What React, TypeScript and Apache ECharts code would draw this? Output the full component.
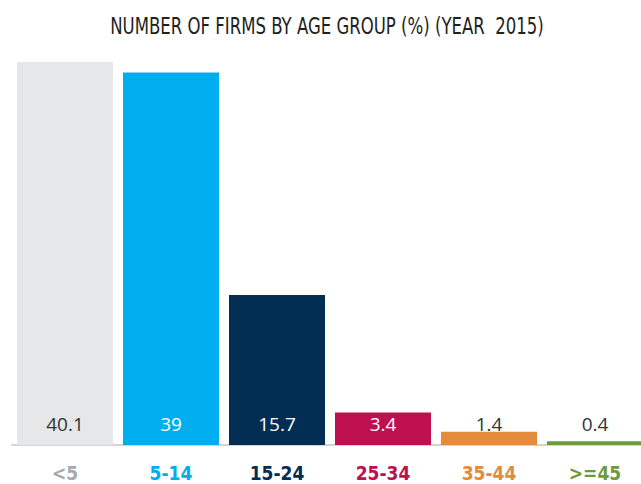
import React, { useEffect, useRef } from "react";
import * as echarts from "echarts";

const categories = ["<5", "5-14", "15-24", "25-34", "35-44", ">=45"];
const values = [40.1, 39, 15.7, 3.4, 1.4, 0.4];
const barColors = ["#e6e7e8", "#00aeef", "#012e52", "#be104f", "#e38b3a", "#6b9b3c"];
const labelColors = ["#a7a9ac", "#00aeef", "#012e52", "#be104f", "#e38b3a", "#6b9b3c"];
const valueLabelColors = ["#333333", "#ffffff", "#ffffff", "#ffffff", "#333333", "#333333"];
const titleText = "NUMBER OF FIRMS BY AGE GROUP (%) (YEAR  2015)";

export default function App() {
  const ref = useRef<HTMLDivElement>(null);
  useEffect(() => {
    if (!ref.current) return;
    const chart = echarts.init(ref.current, null, { renderer: "svg" });
    chart.setOption({
      animation: false,
      backgroundColor: "#ffffff",
      graphic: [
        {
          type: "text",
          x: 327,
          y: 26,
          scaleX: 0.8,
          style: {
            text: titleText,
            align: "center",
            verticalAlign: "middle",
            fontFamily: "'DejaVu Sans Condensed', sans-serif",
            fontSize: 23,
            fill: "#231f20",
          },
        },
      ],
      grid: { left: 12, right: 0, top: 62, bottom: 39, containLabel: false },
      xAxis: {
        type: "category",
        data: categories,
        axisLine: { show: true, lineStyle: { color: "#d1d3d4", width: 2 } },
        axisTick: { show: false },
        axisLabel: {
          margin: 18,
          fontFamily: "'DejaVu Sans Condensed', sans-serif",
          fontWeight: "bold",
          fontSize: 19,
          color: (_v: string, i: number) => labelColors[i],
        },
      },
      yAxis: {
        type: "value",
        min: 0,
        max: 40.1,
        show: false,
        splitLine: { show: false },
      },
      series: [
        {
          type: "bar",
          barCategoryGap: "9.4%",
          data: values.map((v, i) => ({
            value: v,
            itemStyle: { color: barColors[i] },
            label: { color: valueLabelColors[i] },
          })),
          label: {
            show: true,
            position: "insideBottom",
            distance: 12,
            fontFamily: "'Open Sans', sans-serif",
            fontWeight: 400,
            fontSize: 19,
          },
        },
      ],
    });
    return () => chart.dispose();
  }, []);
  return (
    <div style={{ position: "absolute", left: 0, top: 0, width: 641, height: 484, overflow: "hidden" }}>
      <div ref={ref} style={{ width: 648, height: 484 }} />
    </div>
  );
}
